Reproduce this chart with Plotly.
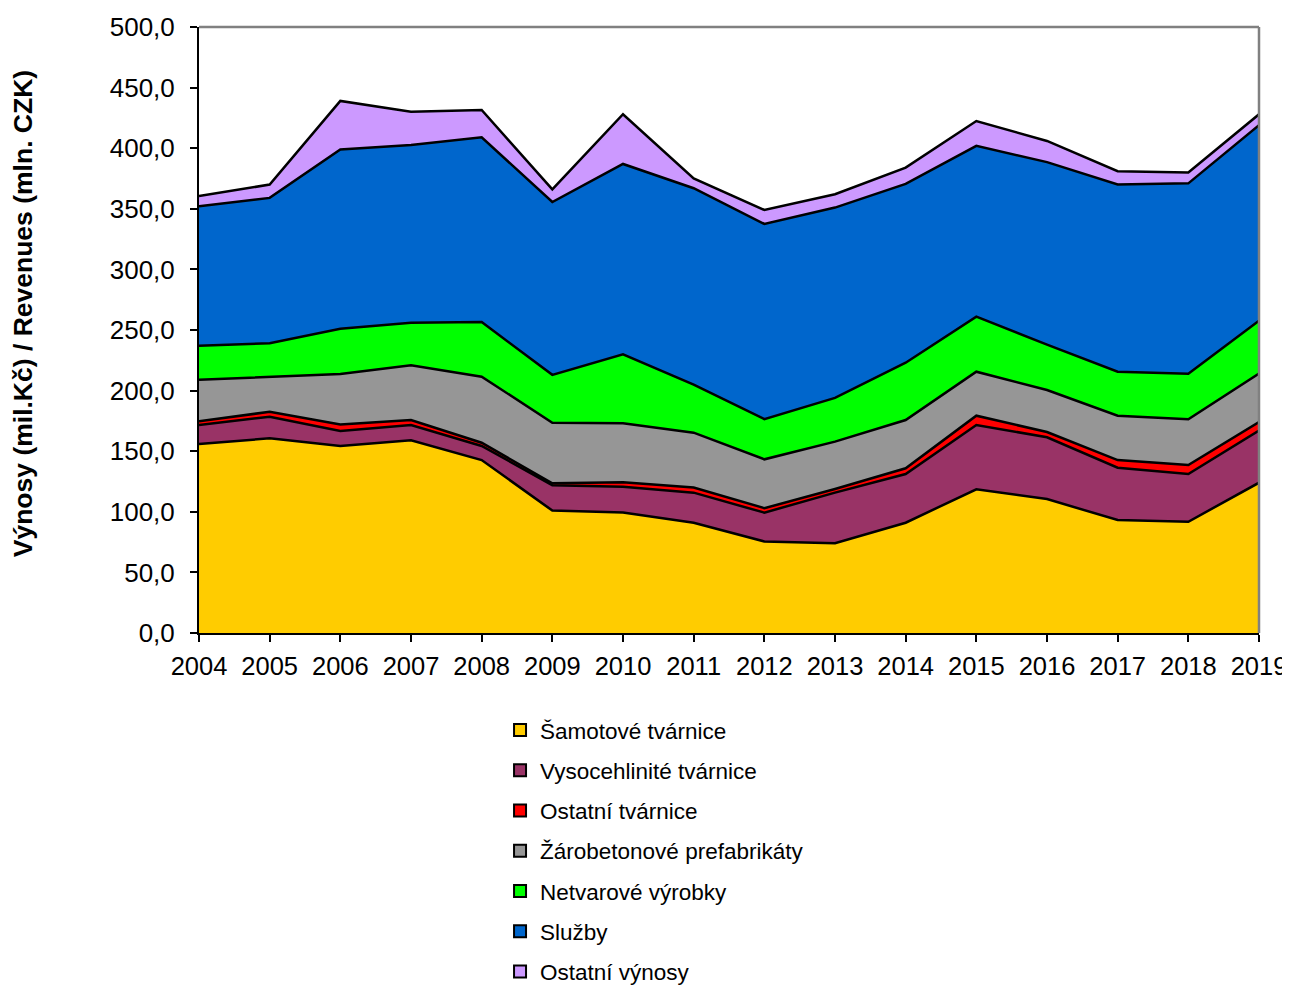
import plotly.graph_objects as go

years = list(range(2004, 2020))

samotove = [156.0, 160.6, 154.3, 159.0, 142.7, 101.0, 99.5, 91.0, 75.5, 74.0, 91.0, 118.6, 110.5, 93.2, 91.8, 124.0]
vysocehlinite = [15.6, 17.9, 12.4, 12.6, 11.6, 21.0, 21.2, 24.8, 23.8, 41.8, 40.2, 53.0, 51.0, 43.2, 39.4, 43.0]
ostatni_tvarnice = [3.2, 4.0, 5.3, 4.1, 2.7, 1.5, 3.6, 4.2, 3.7, 3.0, 4.7, 7.7, 4.3, 6.3, 7.4, 7.0]
zarobetonove = [34.2, 29.0, 41.7, 45.3, 54.5, 50.0, 48.7, 45.3, 40.3, 39.1, 39.8, 36.3, 34.7, 36.6, 37.7, 40.0]
netvarove = [28.0, 27.5, 37.3, 35.0, 45.0, 39.5, 57.0, 39.7, 33.2, 36.1, 47.3, 45.4, 37.5, 36.3, 37.7, 43.7]
sluzby = [115.0, 120.0, 148.0, 146.6, 152.5, 142.6, 157.0, 162.0, 161.0, 157.0, 147.5, 141.0, 150.5, 154.4, 157.0, 161.3]
ostatni_vynosy = [8.5, 11.0, 40.0, 27.4, 22.5, 10.4, 41.0, 8.0, 11.5, 11.0, 13.5, 20.4, 17.5, 11.0, 9.0, 9.0]

series_names = ["Šamotové tvárnice", "Vysocehlinité tvárnice", "Ostatní tvárnice",
                "Žárobetonové prefabrikáty", "Netvarové výrobky", "Služby", "Ostatní výnosy"]
series_values = [samotove, vysocehlinite, ostatni_tvarnice, zarobetonove, netvarove, sluzby, ostatni_vynosy]
series_colors = ["#FFCC00", "#993366", "#FF0000", "#969696", "#00FF00", "#0066CC", "#CC99FF"]

fig = go.Figure()
for name, vals, col in zip(series_names, series_values, series_colors):
    fig.add_trace(go.Scatter(
        x=years, y=vals, name=name, stackgroup="one", mode="lines",
        line=dict(color="black", width=2.5), fillcolor=col,
        showlegend=False, hoverinfo="x+y+name"))

for i, (name, col) in enumerate(zip(series_names, series_colors)):
    fig.add_trace(go.Scatter(
        x=[None], y=[None], name=name, mode="markers", legendgroup=f"g{i}",
        marker=dict(symbol="square", size=12, color=col, line=dict(color="black", width=2)),
        showlegend=True))

font_family = "Liberation Sans, Arial, sans-serif"

fig.update_layout(
    width=1290, height=986,
    margin=dict(l=191, r=39, t=19, b=361, autoexpand=False),
    paper_bgcolor="white", plot_bgcolor="white",
    font=dict(family=font_family, size=25, color="black"),
    separators=", ",
    showlegend=True,
    legend=dict(x=0.284, y=-0.125, xanchor="left", yanchor="top",
                traceorder="grouped", tracegroupgap=8,
                font=dict(size=22.5, family=font_family), itemwidth=30,
                bgcolor="rgba(0,0,0,0)"),
    xaxis=dict(range=[2004, 2019], tickmode="linear", tick0=2004, dtick=1,
               showgrid=False, zeroline=False, showline=True, linecolor="black", linewidth=2,
               ticks="outside", ticklen=7, tickcolor="black", tickwidth=1.5,
               tickfont=dict(size=25.5), ticklabelstandoff=2, ticklabeloverflow="allow"),
    yaxis=dict(range=[0, 500], tickmode="linear", tick0=0, dtick=50, tickformat=".1f",
               showgrid=False, zeroline=False, showline=True, linecolor="black", linewidth=2,
               ticks="outside", ticklen=7, tickcolor="black", tickwidth=1.5,
               tickfont=dict(size=26), ticklabelstandoff=10),
    annotations=[dict(text="<b>Výnosy (mil.Kč) / Revenues (mln. CZK)</b>",
                      xref="paper", yref="paper", x=(22 - 198) / 1060, y=0.526,
                      xanchor="center", yanchor="middle", textangle=-90,
                      showarrow=False, font=dict(size=26.5, family=font_family))],
    shapes=[
        dict(type="line", xref="paper", yref="paper", x0=0, x1=1, y0=1, y1=1,
             line=dict(color="#808080", width=2.5)),
        dict(type="line", xref="paper", yref="paper", x0=1, x1=1, y0=0, y1=1,
             line=dict(color="#808080", width=2.5)),
    ],
)

fig.write_html("out.html")
